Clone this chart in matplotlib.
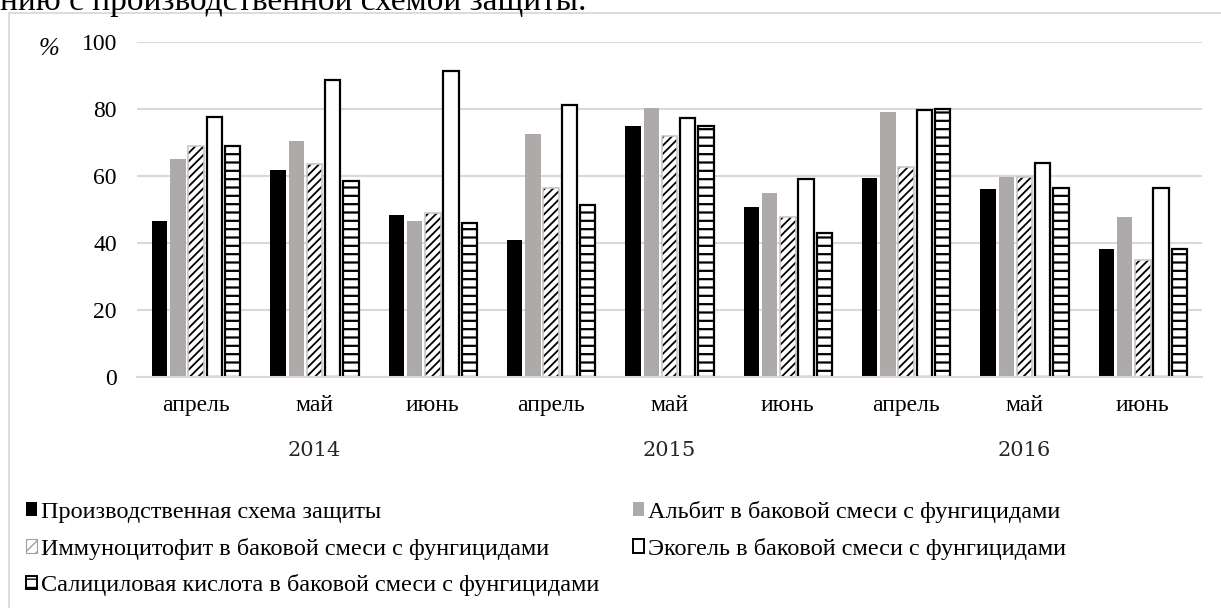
import numpy as np
import matplotlib
matplotlib.use("Agg")
import matplotlib.pyplot as plt
from matplotlib.patches import Rectangle, Patch

# === DATA ===
months = ['апрель', 'май', 'июнь'] * 3
years = ['2014', '2015', '2016']

series_names = [
    'Производственная схема защиты',
    'Альбит в баковой смеси с фунгицидами',
    'Иммуноцитофит в баковой смеси с фунгицидами',
    'Экогель в баковой смеси с фунгицидами',
    'Салициловая кислота в баковой смеси с фунгицидами',
]
production = [46.7, 61.9, 48.4, 41.0, 75.0, 50.7, 59.3, 56.1, 38.1]
albit      = [64.9, 70.4, 46.7, 72.5, 80.2, 54.9, 79.2, 59.6, 47.7]
immuno     = [68.8, 63.7, 49.1, 56.4, 72.0, 47.8, 62.7, 59.7, 34.9]
ecogel     = [77.7, 88.7, 91.4, 81.1, 77.4, 59.1, 79.5, 64.0, 56.3]
salicylic  = [68.8, 58.5, 45.9, 51.3, 74.9, 42.9, 80.0, 56.5, 38.1]
yticks = [0, 20, 40, 60, 80, 100]

plt.rcParams['font.family'] = ['Liberation Serif', 'DejaVu Serif']

W, H = 1221, 608
fig = plt.figure(figsize=(W / 100, H / 100), dpi=100)
ax = fig.add_axes([137 / W, 1 - 377.3 / H, 1065 / W, (377.3 - 41.7) / H])

# outer frame and clipped document text above the chart
fig.patches.append(Rectangle((9 / W, -0.1), 1.2, 1.1 - 13 / H, transform=fig.transFigure,
                             fill=False, edgecolor='#d9d9d9', linewidth=1.3))
fig.text(0.0, 1 - 10 / H, 'нию с производственной схемой защиты.', fontsize=24,
         va='baseline', ha='left')

x = np.arange(len(months))
step = 0.154
width = 0.131
offs = (np.arange(5) - 2) * step
gray_edge = '#c8c8c8'

h0 = ax.bar(x + offs[0], production, width, color='black', linewidth=0)
h1 = ax.bar(x + offs[1], albit, width, color='#aeaaaa', linewidth=0)

with plt.rc_context({'hatch.linewidth': 1.3}):
    ax.bar(x + offs[2], immuno, width, color='white', edgecolor='black',
           hatch='////', linewidth=0)
ax.bar(x + offs[2], immuno, width, fill=False, edgecolor=gray_edge, linewidth=1.2)

ax.bar(x + offs[3], ecogel, width, color='white', edgecolor='black', linewidth=1.6)

with plt.rc_context({'hatch.linewidth': 1.6}):
    ax.bar(x + offs[4], salicylic, width, color='white', edgecolor='black',
           hatch='--', linewidth=1.6)

ax.set_xlim(-0.5, len(months) - 0.5)
ax.set_ylim(0, 100)
ax.set_yticks(yticks)
ax.set_xticks(x)
ax.set_xticklabels(months)
ax.tick_params(axis='both', length=0, labelsize=17)
ax.tick_params(axis='x', pad=13)
ax.tick_params(axis='y', pad=14.5)
ax.yaxis.grid(True, color='#d9d9d9', linewidth=1.5)
ax.set_axisbelow(True)
for s in ['top', 'right', 'left']:
    ax.spines[s].set_visible(False)
ax.spines['bottom'].set_color('#d9d9d9')
ax.spines['bottom'].set_linewidth(1.5)

fig.text(49 / W, 1 - 49 / H, '%', fontsize=18, style='italic', ha='center', va='center')

for i, yr in enumerate(years):
    ax.text(3 * i + 1, -0.219, yr, transform=ax.get_xaxis_transform(),
            ha='center', va='center', fontsize=15, family='DejaVu Serif', color='#262626')

# legend handles
with plt.rc_context({'hatch.linewidth': 1.0}):
    p2 = Patch(facecolor='white', edgecolor='#a0a0a0', hatch='///', linewidth=0.8)
p3 = Patch(facecolor='white', edgecolor='black', linewidth=1.4)
with plt.rc_context({'hatch.linewidth': 1.2}):
    p4 = Patch(facecolor='white', edgecolor='black', hatch='--', linewidth=1.4)

hs = [h0, h1, p2, p3, p4]
order = [0, 2, 4, 1, 3]
fig.legend([hs[i] for i in order], [series_names[i] for i in order], ncol=2,
           loc='upper left', bbox_to_anchor=(26 / W, 1 - 501 / H), frameon=False,
           fontsize=17.5, handlelength=0.45, handleheight=0.5, handletextpad=0.15,
           labelspacing=0.6, columnspacing=1.42, borderaxespad=0, borderpad=0)

fig.savefig('out.png', dpi=100)
